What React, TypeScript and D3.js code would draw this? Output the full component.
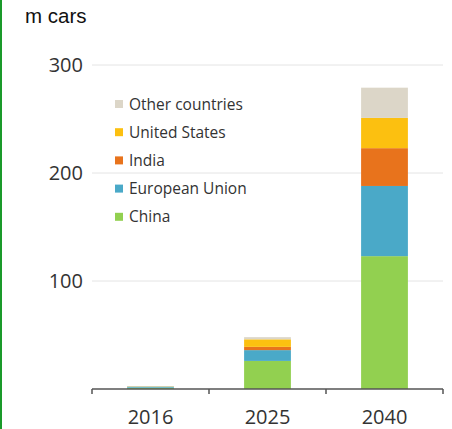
import React from "react";
import * as d3 from "d3";

const years = ["2016", "2025", "2040"];
const seriesNames = ["China", "European Union", "India", "United States", "Other countries"];
const china = [1.2, 26, 123];
const eu = [1.0, 10, 65];
const india = [0.1, 3, 35];
const us = [0.2, 7, 28];
const other = [0.2, 2, 28];
const seriesColors = ["#92d050", "#4aa9c8", "#e8731c", "#fcc010", "#dcd6c8"];
const yTicks = [100, 200, 300];
const legendOrder = ["Other countries", "United States", "India", "European Union", "China"];

export default function App() {
  const W = 452, H = 429;
  const x0 = 92, x1 = 443, yBase = 389, yTop = 65;
  const x = d3.scaleBand<string>().domain(years).range([x0, x1]).paddingInner(0.6).paddingOuter(0.3);
  const y = d3.scaleLinear().domain([0, 300]).range([yBase, yTop]);
  const valuesBy = [china, eu, india, us, other];
  const rows = years.map((yr, i) => {
    const r: any = { year: yr };
    seriesNames.forEach((s, k) => (r[s] = valuesBy[k][i]));
    return r;
  });
  const stacked = d3.stack<any>().keys(seriesNames)(rows);
  const step = (x1 - x0) / years.length;
  const tickXs = d3.range(years.length + 1).map((i) => x0 + i * step);
  const colorOf = (name: string) => seriesColors[seriesNames.indexOf(name)];
  const font = "'Open Sans', 'DejaVu Sans', sans-serif";
  return (
    <svg width={W} height={H} style={{ position: "absolute", left: 0, top: 0, background: "#fff" }}>
      <rect x={0} y={0} width={2} height={H} fill="#1a9a2a" />
      <text x={25} y={23} fontFamily="'Liberation Sans', Arial, sans-serif" fontSize={20.5} fill="#111">
        m cars
      </text>
      {yTicks.map((t) => (
        <g key={t}>
          <line x1={x0} x2={x1} y1={y(t)} y2={y(t)} stroke="#e4e4e4" strokeWidth={1} />
          <text x={83} y={y(t) + 7} textAnchor="end" fontFamily={font} fontSize={20} fill="#333">
            {t}
          </text>
        </g>
      ))}
      {stacked.map((layer) => (
        <g key={layer.key} fill={colorOf(layer.key)}>
          {layer.map((d, i) => (
            <rect
              key={i}
              x={x(years[i])}
              width={x.bandwidth()}
              y={y(d[1])}
              height={Math.max(0, y(d[0]) - y(d[1]))}
            />
          ))}
        </g>
      ))}
      <line x1={x0} x2={x1} y1={yBase} y2={yBase} stroke="#555" strokeWidth={1.5} />
      {tickXs.map((tx, i) => (
        <line key={i} x1={tx} x2={tx} y1={yBase} y2={yBase + 5} stroke="#555" strokeWidth={1.5} />
      ))}
      {years.map((yr) => (
        <text
          key={yr}
          x={(x(yr) as number) + x.bandwidth() / 2}
          y={424}
          textAnchor="middle"
          fontFamily={font}
          fontSize={20}
          fill="#333"
        >
          {yr}
        </text>
      ))}
      {legendOrder.map((name, i) => (
        <g key={name} transform={`translate(115, ${104 + i * 28.2})`}>
          <rect x={0} y={-4} width={8} height={8} fill={colorOf(name)} />
          <text x={14} y={5.5} fontFamily={font} fontSize={15.5} fill="#333">
            {name}
          </text>
        </g>
      ))}
    </svg>
  );
}
